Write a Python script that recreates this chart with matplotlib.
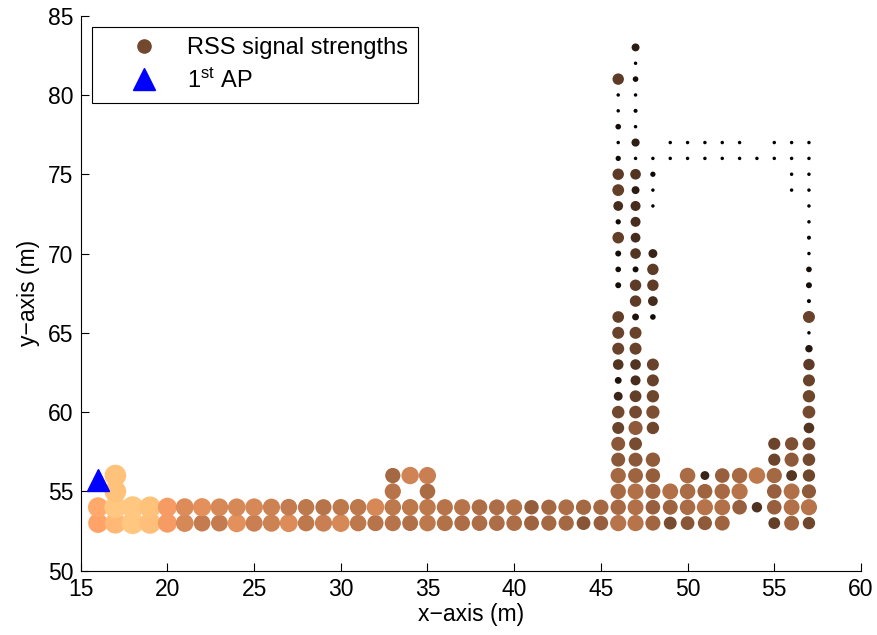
import numpy as np
import matplotlib
matplotlib.use('Agg')
import matplotlib.pyplot as plt
from matplotlib.lines import Line2D

plt.rcParams['font.family'] = ['Liberation Sans', 'DejaVu Sans']
plt.rcParams['mathtext.fontset'] = 'custom'
plt.rcParams['mathtext.rm'] = 'Liberation Sans'

# normalised RSS level (0 = weakest, 1 = strongest)
# corridor rows
row53_x = [16, 17, 18, 19, 20, 21, 22, 23, 24, 25, 26, 27, 28, 29, 30, 31, 32, 33, 34, 35,
           36, 37, 38, 39, 40, 41, 42, 43, 44, 45, 46, 47, 48, 49, 50, 51, 52, 55, 56, 57]
row53_rss = [0.82, 0.92, 1.00, 0.95, 0.78, 0.68, 0.62, 0.62, 0.72, 0.64, 0.65, 0.70, 0.60, 0.64,
             0.68, 0.60, 0.58, 0.58, 0.56, 0.60, 0.57, 0.55, 0.55, 0.55, 0.55, 0.50, 0.52, 0.52,
             0.43, 0.48, 0.58, 0.58, 0.51, 0.38, 0.43, 0.45, 0.50, 0.32, 0.50, 0.35]

row54_x = [16, 17, 18, 19, 20, 21, 22, 23, 24, 25, 26, 27, 28, 29, 30, 31, 32, 33, 34, 35, 36,
           37, 38, 39, 40, 41, 42, 43, 44, 45, 46, 47, 48, 49, 50, 51, 52, 53, 54, 55, 56, 57]
row54_rss = [0.85, 1.00, 1.00, 0.97, 0.78, 0.70, 0.72, 0.68, 0.68, 0.68, 0.65, 0.62, 0.60, 0.58,
             0.60, 0.60, 0.68, 0.60, 0.60, 0.60, 0.58, 0.58, 0.55, 0.55, 0.57, 0.47, 0.52, 0.55,
             0.52, 0.52, 0.53, 0.56, 0.48, 0.50, 0.54, 0.58, 0.56, 0.48, 0.25, 0.48, 0.56, 0.58]

row55_x = [17, 33, 35, 46, 47, 48, 49, 50, 51, 52, 53, 55, 56, 57]
row55_rss = [0.97, 0.58, 0.54, 0.53, 0.56, 0.51, 0.56, 0.54, 0.50, 0.53, 0.58, 0.48, 0.56, 0.45]

row56_x = [17, 33, 34, 35, 46, 47, 48, 50, 51, 52, 53, 54, 55, 56, 57]
row56_rss = [0.97, 0.52, 0.66, 0.64, 0.52, 0.50, 0.47, 0.54, 0.18, 0.48, 0.53, 0.60, 0.52, 0.27, 0.35]

# top corridor (weak readings)
row76_x = [49, 50, 51, 52, 53, 54, 55, 56, 57]
row76_rss = [0.01, 0.01, 0.01, 0.01, 0.01, 0.01, 0.01, 0.01, 0.01]
row77_x = [49, 50, 51, 52, 53, 55, 56, 57]
row77_rss = [0.01, 0.01, 0.01, 0.01, 0.01, 0.01, 0.01, 0.01]

# vertical corridors
col46_y = [57, 58, 59, 60, 61, 62, 63, 64, 65, 66, 68, 69, 70, 71, 72, 73, 74, 75, 76, 77, 78, 79, 80, 81]
col46_rss = [0.44, 0.44, 0.33, 0.36, 0.18, 0.10, 0.26, 0.33, 0.33, 0.31, 0.07, 0.06, 0.07, 0.31,
             0.05, 0.22, 0.32, 0.30, 0.05, 0.01, 0.06, 0.01, 0.01, 0.30]

col47_y = [57, 58, 59, 60, 61, 62, 63, 64, 65, 66, 67, 68, 69, 70, 71, 72, 73, 74, 75, 76, 77, 78,
           79, 80, 81, 82, 83]
col47_rss = [0.44, 0.38, 0.45, 0.37, 0.32, 0.23, 0.26, 0.33, 0.33, 0.10, 0.30, 0.30, 0.07, 0.26,
             0.22, 0.23, 0.23, 0.14, 0.26, 0.01, 0.15, 0.01, 0.02, 0.01, 0.06, 0.01, 0.14]

col48_y = [57, 59, 60, 61, 62, 63, 66, 67, 68, 69, 70, 73, 74, 75, 76]
col48_rss = [0.46, 0.35, 0.40, 0.35, 0.33, 0.33, 0.06, 0.22, 0.30, 0.30, 0.18, 0.01, 0.01, 0.05, 0.01]

col55_y = [57, 58]
col55_rss = [0.34, 0.34]
col56_y = [57, 58, 74, 75]
col56_rss = [0.45, 0.40, 0.01, 0.01]
col57_y = [57, 58, 59, 60, 61, 62, 63, 64, 65, 66, 67, 68, 69, 70, 71, 72, 73, 74, 75]
col57_rss = [0.36, 0.37, 0.26, 0.37, 0.35, 0.33, 0.30, 0.12, 0.01, 0.33, 0.02, 0.07, 0.06, 0.01,
             0.02, 0.01, 0.01, 0.01, 0.01]

ap_x = [16]
ap_y = [55.7]

# gather all measurement points
rows = [(row53_x, 53, row53_rss), (row54_x, 54, row54_rss), (row55_x, 55, row55_rss),
        (row56_x, 56, row56_rss), (row76_x, 76, row76_rss), (row77_x, 77, row77_rss)]
cols = [(46, col46_y, col46_rss), (47, col47_y, col47_rss), (48, col48_y, col48_rss),
        (55, col55_y, col55_rss), (56, col56_y, col56_rss), (57, col57_y, col57_rss)]
px, py, pr = [], [], []
for xs, yv, rs in rows:
    px += xs
    py += [yv] * len(xs)
    pr += rs
for xv, ys, rs in cols:
    px += [xv] * len(ys)
    py += ys
    pr += rs
px = np.array(px)
py = np.array(py)
pr = np.array(pr)

dpi = 100
# marker diameter in pixels grows with signal strength
diam = 2.5 + 19.5 * pr ** 0.65
sizes = (diam * 72 / dpi) ** 2

fs = 16.5
fig = plt.figure(figsize=(8.78, 6.35), dpi=dpi)
ax = fig.add_axes([0.0919, 0.1013, 0.8887, 0.874])
ax.scatter(px, py, s=sizes, c=pr, cmap='copper', vmin=0, vmax=1, linewidths=0, zorder=2)
ax.plot(ap_x, ap_y, marker='^', color='blue', markersize=16.5, ls='none', zorder=3)

ax.set_xlim(15, 60)
ax.set_ylim(50, 85)
ax.set_xticks(np.arange(15, 61, 5))
ax.set_yticks(np.arange(50, 86, 5))
ax.spines['top'].set_visible(False)
ax.spines['right'].set_visible(False)
for s in ['left', 'bottom']:
    ax.spines[s].set_linewidth(0.8)
ax.tick_params(direction='in', length=5.6, width=0.8, labelsize=fs, pad=5)
ax.set_xlabel('x\u2212axis (m)', fontsize=fs, labelpad=2)
ax.set_ylabel('y\u2212axis (m)', fontsize=fs, labelpad=6)

cmap = plt.get_cmap('copper')
handles = [Line2D([], [], marker='o', ls='none', color=cmap(0.36), markersize=9.5),
           Line2D([], [], marker='^', ls='none', color='blue', markersize=16.5)]
leg = ax.legend(handles, ['RSS signal strengths', '$\\mathregular{1^{st}}$ AP'],
                loc='upper left', bbox_to_anchor=(0.0145, 0.9796), borderaxespad=0,
                fontsize=17, fancybox=False, framealpha=1, edgecolor='black',
                borderpad=0.42, handlelength=3.56, handletextpad=0.04, labelspacing=0.4)
leg.get_frame().set_linewidth(0.8)

fig.savefig('out.png', dpi=dpi)
